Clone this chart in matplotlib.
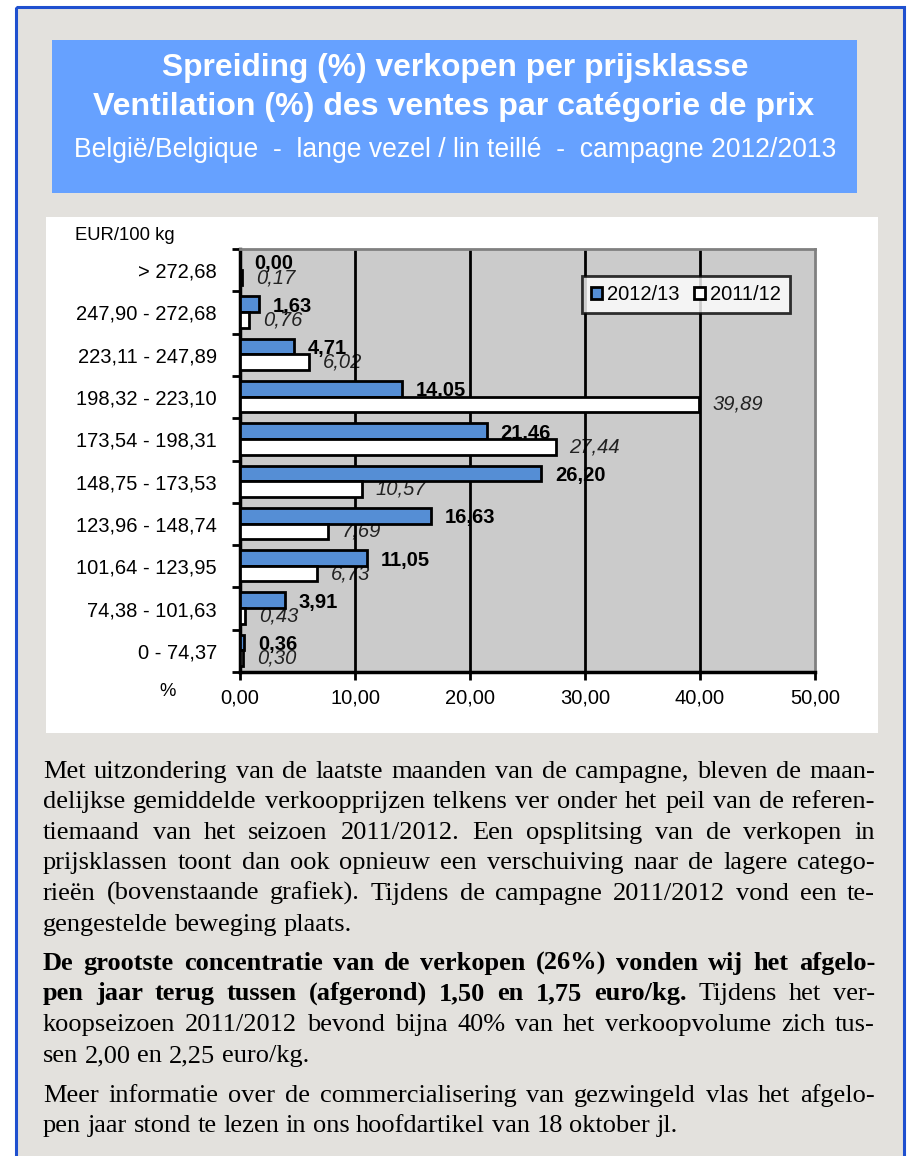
import matplotlib
matplotlib.use('Agg')
import matplotlib.pyplot as plt
from matplotlib.patches import Rectangle, Patch
import numpy as np

# ---------------- data ----------------
categories = ['0 - 74,37', '74,38 - 101,63', '101,64 - 123,95', '123,96 - 148,74',
              '148,75 - 173,53', '173,54 - 198,31', '198,32 - 223,10',
              '223,11 - 247,89', '247,90 - 272,68', '> 272,68']
v2012 = [0.36, 3.91, 11.05, 16.63, 26.20, 21.46, 14.05, 4.71, 1.63, 0.00]
v2011 = [0.30, 0.43, 6.73, 7.69, 10.57, 27.44, 39.89, 6.02, 0.76, 0.17]
series_names = ['2012/13', '2011/12']
xticks = [0, 10, 20, 30, 40, 50]

title1 = 'Spreiding (%) verkopen per prijsklasse'
title2 = 'Ventilation (%) des ventes par catégorie de prix'
title3 = 'België/Belgique  -  lange vezel / lin teillé  -  campagne 2012/2013'
unit_label = 'EUR/100 kg'
pct_label = '%'

# body text lines: (bold part, regular part)
body_lines = [
    ('', 'Met uitzondering van de laatste maanden van de campagne, bleven de maan-'),
    ('', 'delijkse gemiddelde verkoopprijzen telkens ver onder het peil van de referen-'),
    ('', 'tiemaand van het seizoen 2011/2012. Een opsplitsing van de verkopen in'),
    ('', 'prijsklassen toont dan ook opnieuw een verschuiving naar de lagere catego-'),
    ('', 'rieën (bovenstaande grafiek). Tijdens de campagne 2011/2012 vond een te-'),
    ('', 'gengestelde beweging plaats.'),
    ('De grootste concentratie van de verkopen (26%) vonden wij het afgelo-', ''),
    ('pen jaar terug tussen (afgerond) 1,50 en 1,75 euro/kg.', 'Tijdens het ver-'),
    ('', 'koopseizoen 2011/2012 bevond bijna 40% van het verkoopvolume zich tus-'),
    ('', 'sen 2,00 en 2,25 euro/kg.'),
    ('', 'Meer informatie over de commercialisering van gezwingeld vlas het afgelo-'),
    ('', 'pen jaar stond te lezen in ons hoofdartikel van 18 oktober jl.'),
]
last_lines = {5, 9, 11}
baselines = [778, 808, 839, 869, 900, 931, 970, 1000, 1031, 1062, 1102, 1132]

# ---------------- figure ----------------
W, H = 909, 1156
fig = plt.figure(figsize=(W / 100, H / 100), dpi=100)
fig.patch.set_facecolor('white')
bg = fig.add_axes([0, 0, 1, 1])
bg.set_xlim(0, W)
bg.set_ylim(H, 0)
bg.axis('off')
renderer = fig.canvas.get_renderer()

SANS = 'Liberation Sans'
SERIF = 'Liberation Serif'
BLUE = '#558ed5'

# page (paper) and border
bg.add_patch(Rectangle((16, 7), 888, 1200, facecolor='#e3e1dd', edgecolor='none'))
bg.add_patch(Rectangle((16, 7), 888, 1200, fill=False, edgecolor='#1f50cf', lw=2.2))
# title box
bg.add_patch(Rectangle((52, 40), 805, 153, facecolor='#66a1ff', edgecolor='none'))
# chart panel
bg.add_patch(Rectangle((46, 217), 832, 516, facecolor='white', edgecolor='none'))


def fit(t, target):
    bb = t.get_window_extent(renderer)
    t.set_fontsize(t.get_fontsize() * target / bb.width)


t1 = bg.text(455, 76, title1, ha='center', va='baseline', color='white',
             fontweight='bold', fontsize=21, family=SANS)
fit(t1, 586)
t2 = bg.text(454, 115, title2, ha='center', va='baseline', color='white',
             fontweight='bold', fontsize=21, family=SANS)
fit(t2, 722)
t3 = bg.text(455, 157, title3, ha='center', va='baseline', color='white',
             fontsize=17, family=SANS)
fit(t3, 766)

bg.text(75, 236, unit_label, ha='left', va='center', fontsize=13.3, family=SANS)
bg.text(168, 691, pct_label, ha='center', va='center', fontsize=13.3, family=SANS)

# ---------------- chart ----------------
ax = fig.add_axes([240 / W, 1 - 672 / H, 575 / W, 423 / H])
ax.set_facecolor('#cbcbcb')
y = np.arange(len(categories))
bh = 0.37
yb = y + 0.195
yw = y - 0.175
ax.barh(yb, v2012, height=bh, color=BLUE, edgecolor='black', lw=2, zorder=3)
ax.barh(yw, v2011, height=bh, color='white', edgecolor='black', lw=2, zorder=3)
for xv in xticks[1:-1]:
    ax.axvline(xv, color='black', lw=2, zorder=2)


def fmt(v):
    return f'{v:.2f}'.replace('.', ',')


for v, yy in zip(v2012, yb):
    ax.annotate(fmt(v), (v, yy), xytext=(10, -1.5), textcoords='offset points',
                ha='left', va='center', fontweight='bold', fontsize=14.5,
                family=SANS, zorder=1.5)
for v, yy in zip(v2011, yw):
    ax.annotate(fmt(v), (v, yy), xytext=(10, 0), textcoords='offset points',
                ha='left', va='center', fontstyle='italic', fontsize=14.5,
                family=SANS, zorder=1.5, color='#222222')

ax.set_xlim(0, 50)
ax.set_ylim(-0.5, len(categories) - 0.5)
ax.set_xticks(xticks)
ax.set_xticklabels([fmt(v) for v in xticks], family=SANS, fontsize=14.5)
ax.set_yticks(np.arange(-0.5, len(categories), 1))
ax.set_yticklabels([])
ax.set_yticks(y, minor=True)
ax.set_yticklabels(categories, minor=True, family=SANS, fontsize=14.5)
ax.tick_params(axis='x', length=6, width=2, direction='out', pad=6)
ax.tick_params(axis='y', which='major', length=6, width=2, direction='out')
ax.tick_params(axis='y', which='minor', length=0, pad=16.5)
for s in ['left', 'bottom']:
    ax.spines[s].set_linewidth(2.5)
    ax.spines[s].set_color('black')
for s in ['top', 'right']:
    ax.spines[s].set_linewidth(2)
    ax.spines[s].set_color('#808080')

handles = [Patch(facecolor=BLUE, edgecolor='black', lw=2),
           Patch(facecolor='white', edgecolor='black', lw=2)]
leg = ax.legend(handles, series_names, loc='center',
                bbox_to_anchor=(686 / W, 1 - 294.5 / H), bbox_transform=fig.transFigure,
                ncol=2, frameon=True, fancybox=False, edgecolor='black',
                prop={'family': SANS, 'size': 14.5},
                handlelength=0.55, handleheight=0.55, handletextpad=0.25,
                columnspacing=0.7, borderpad=0.45, borderaxespad=0)
leg.get_frame().set_linewidth(2)
leg.set_zorder(6)

# ---------------- body text ----------------
FS = 19
X0, X1 = 43, 875
for i, ((bpart, rpart), yb_) in enumerate(zip(body_lines, baselines)):
    words = [(w, True) for w in bpart.split()] + [(w, False) for w in rpart.split()]
    texts = []
    widths = []
    for w, b in words:
        t = bg.text(0, yb_, w, ha='left', va='baseline', fontsize=FS, family=SERIF,
                    fontweight='bold' if b else 'normal', color='black')
        texts.append(t)
        widths.append(t.get_window_extent(renderer).width)
    if i in last_lines:
        gap = FS * 100 / 72 * 0.25
    else:
        gap = (X1 - X0 - sum(widths)) / (len(words) - 1)
    x = X0
    for t, wd in zip(texts, widths):
        t.set_x(x)
        x += wd + gap

fig.savefig('out.png', dpi=100, facecolor=fig.get_facecolor())
